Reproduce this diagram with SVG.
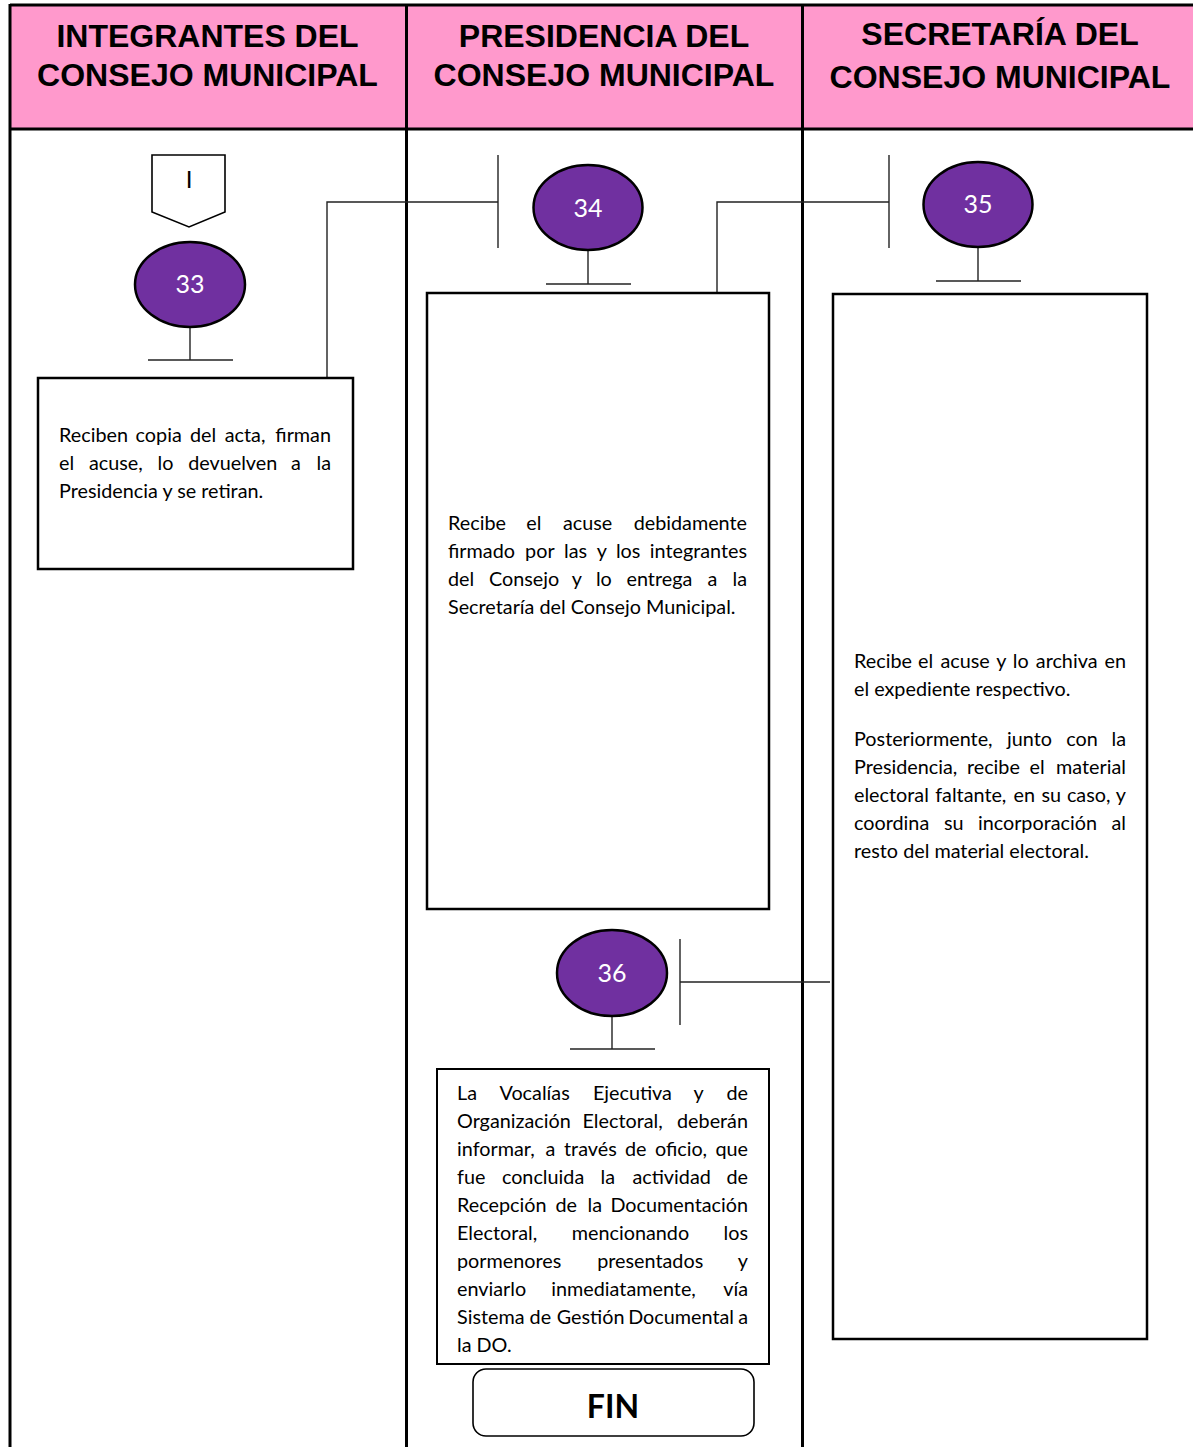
<svg xmlns="http://www.w3.org/2000/svg" width="1193" height="1447" viewBox="0 0 1193 1447">
<style>
.lane{stroke:#000;stroke-width:3;fill:none}
.hdr{font-family:"Liberation Sans",Arial,sans-serif;font-weight:bold;font-size:32px;fill:#000;text-anchor:middle}
.circ{fill:#7030A0;stroke:#000;stroke-width:2.5}
.num{font-family:Lato,"Noto Sans",sans-serif;font-size:25px;fill:#fff;text-anchor:middle}
.box{fill:#fff;stroke:#000;stroke-width:2.5}
.body{font-family:Lato,"Noto Sans",sans-serif;font-size:19.8px;fill:#000}
.ln{stroke:#222;stroke-width:1.4;fill:none}
.e{text-anchor:end}
</style>
<rect x="0" y="0" width="1193" height="1447" fill="#fff"/>
<g id="lanes">
<rect x="10" y="5" width="1190" height="124" fill="#FF99CC"/>
<line class="lane" x1="10" y1="5" x2="1193" y2="5"/>
<line class="lane" x1="10" y1="129" x2="1193" y2="129"/>
<line class="lane" x1="10" y1="4" x2="10" y2="1447"/>
<line class="lane" x1="406.5" y1="4" x2="406.5" y2="1447"/>
<line class="lane" x1="802.5" y1="4" x2="802.5" y2="1447"/>
<text class="hdr" x="207.5" y="47">INTEGRANTES DEL</text>
<text class="hdr" x="207.5" y="86">CONSEJO MUNICIPAL</text>
<text class="hdr" x="604" y="47">PRESIDENCIA DEL</text>
<text class="hdr" x="604" y="86">CONSEJO MUNICIPAL</text>
<text class="hdr" x="1000" y="45">SECRETARÍA DEL</text>
<text class="hdr" x="1000" y="88">CONSEJO MUNICIPAL</text>
</g>
<g id="connectors">
<polyline class="ln" points="327,378 327,202 498,202"/>
<line class="ln" x1="498" y1="155" x2="498" y2="248"/>
<polyline class="ln" points="717,293 717,202 889,202"/>
<line class="ln" x1="889" y1="155" x2="889" y2="248"/>
<line class="ln" x1="680" y1="982" x2="830" y2="982"/>
<line class="ln" x1="680" y1="939" x2="680" y2="1025"/>
</g>
<g id="node-I">
<polygon points="152,155 225,155 225,212 189,227 152,212" fill="#fff" stroke="#000" stroke-width="1.6"/>
<text x="189" y="188" font-family="Lato,'Noto Sans',sans-serif" font-size="24" text-anchor="middle">I</text>
</g>
<g id="node-33">
<line class="ln" x1="190" y1="327" x2="190" y2="360"/>
<line class="ln" x1="148" y1="360" x2="233" y2="360"/>
<ellipse class="circ" cx="190" cy="284.5" rx="55" ry="42.5"/>
<text class="num" x="190" y="293">33</text>
</g>
<g id="box-33">
<rect class="box" x="38" y="378" width="315" height="191"/>
<text class="body" y="442"><tspan x="59">Reciben</tspan><tspan x="135.6">copia</tspan><tspan x="189.9">del</tspan><tspan x="224.7">acta,</tspan><tspan x="331" class="e">firman</tspan></text>
<text class="body" y="470"><tspan x="59">el</tspan><tspan x="89">acuse,</tspan><tspan x="157.6">lo</tspan><tspan x="188.2">devuelven</tspan><tspan x="291.1">a</tspan><tspan x="331" class="e">la</tspan></text>
<text class="body" x="59" y="498">Presidencia y se retiran.</text>
</g>
<g id="node-34">
<line class="ln" x1="588" y1="250" x2="588" y2="284"/>
<line class="ln" x1="546" y1="284" x2="631" y2="284"/>
<ellipse class="circ" cx="588" cy="207.5" rx="54.5" ry="42.5"/>
<text class="num" x="588" y="217">34</text>
</g>
<g id="box-34">
<rect class="box" x="427" y="293" width="342" height="616"/>
<text class="body" y="530"><tspan x="448">Recibe</tspan><tspan x="526.3">el</tspan><tspan x="562.9">acuse</tspan><tspan x="747" class="e">debidamente</tspan></text>
<text class="body" y="558"><tspan x="448">firmado</tspan><tspan x="525.1">por</tspan><tspan x="564.1">las</tspan><tspan x="596.8">y</tspan><tspan x="615.9">los</tspan><tspan x="747" class="e">integrantes</tspan></text>
<text class="body" y="586"><tspan x="448">del</tspan><tspan x="489">Consejo</tspan><tspan x="571.7">y</tspan><tspan x="595.9">lo</tspan><tspan x="626.5">entrega</tspan><tspan x="707.5">a</tspan><tspan x="747" class="e">la</tspan></text>
<text class="body" x="448" y="614">Secretaría del Consejo Municipal.</text>
</g>
<g id="node-35">
<line class="ln" x1="978" y1="246" x2="978" y2="281"/>
<line class="ln" x1="936" y1="281" x2="1021" y2="281"/>
<ellipse class="circ" cx="978" cy="204.5" rx="54.5" ry="42.5"/>
<text class="num" x="978" y="213">35</text>
</g>
<g id="box-35">
<rect class="box" x="833" y="294" width="314" height="1045"/>
<text class="body" y="668"><tspan x="854">Recibe</tspan><tspan x="918.1">el</tspan><tspan x="940.5">acuse</tspan><tspan x="996.2">y</tspan><tspan x="1012.8">lo</tspan><tspan x="1035.8">archiva</tspan><tspan x="1126" class="e">en</tspan></text>
<text class="body" x="854" y="696">el expediente respectivo.</text>
<text class="body" y="746"><tspan x="854">Posteriormente,</tspan><tspan x="1007.1">junto</tspan><tspan x="1066.2">con</tspan><tspan x="1126" class="e">la</tspan></text>
<text class="body" y="774"><tspan x="854">Presidencia,</tspan><tspan x="966.9">recibe</tspan><tspan x="1029.6">el</tspan><tspan x="1126" class="e">material</tspan></text>
<text class="body" y="802"><tspan x="854">electoral</tspan><tspan x="935.2">faltante,</tspan><tspan x="1013.6">en</tspan><tspan x="1041.4">su</tspan><tspan x="1066.9">caso,</tspan><tspan x="1126" class="e">y</tspan></text>
<text class="body" y="830"><tspan x="854">coordina</tspan><tspan x="944">su</tspan><tspan x="977.9">incorporación</tspan><tspan x="1126" class="e">al</tspan></text>
<text class="body" x="854" y="858">resto del material electoral.</text>
</g>
<g id="node-36">
<line class="ln" x1="612" y1="1015" x2="612" y2="1049"/>
<line class="ln" x1="570" y1="1049" x2="655" y2="1049"/>
<ellipse class="circ" cx="612" cy="973" rx="55" ry="43"/>
<text class="num" x="612" y="982">36</text>
</g>
<g id="box-36">
<rect x="437" y="1069" width="332" height="295" fill="#fff" stroke="#000" stroke-width="2"/>
<text class="body" y="1100"><tspan x="457">La</tspan><tspan x="499.5">Vocalías</tspan><tspan x="592.9">Ejecutiva</tspan><tspan x="693.5">y</tspan><tspan x="748" class="e">de</tspan></text>
<text class="body" y="1128"><tspan x="457">Organización</tspan><tspan x="582.5">Electoral,</tspan><tspan x="748" class="e">deberán</tspan></text>
<text class="body" y="1156"><tspan x="457">informar,</tspan><tspan x="545.5">a</tspan><tspan x="564">través</tspan><tspan x="625">de</tspan><tspan x="654.9">oficio,</tspan><tspan x="748" class="e">que</tspan></text>
<text class="body" y="1184"><tspan x="457">fue</tspan><tspan x="501.9">concluida</tspan><tspan x="600.5">la</tspan><tspan x="632.4">actividad</tspan><tspan x="748" class="e">de</tspan></text>
<text class="body" y="1212"><tspan x="457">Recepción</tspan><tspan x="555.5">de</tspan><tspan x="587.5">la</tspan><tspan x="748" class="e">Documentación</tspan></text>
<text class="body" y="1240"><tspan x="457">Electoral,</tspan><tspan x="571.8">mencionando</tspan><tspan x="748" class="e">los</tspan></text>
<text class="body" y="1268"><tspan x="457">pormenores</tspan><tspan x="597.2">presentados</tspan><tspan x="748" class="e">y</tspan></text>
<text class="body" y="1296"><tspan x="457">enviarlo</tspan><tspan x="551.3">inmediatamente,</tspan><tspan x="748" class="e">vía</tspan></text>
<text class="body" y="1324"><tspan x="457">Sistema</tspan><tspan x="529.6">de</tspan><tspan x="556.7">Gestión</tspan><tspan x="628.2">Documental</tspan><tspan x="748" class="e">a</tspan></text>
<text class="body" x="457" y="1352">la DO.</text>
</g>
<g id="node-fin">
<rect x="473" y="1369" width="281" height="67" rx="13" fill="#fff" stroke="#000" stroke-width="1.6"/>
<text x="613" y="1418" font-family="Lato,'Noto Sans',sans-serif" font-weight="bold" font-size="32" text-anchor="middle">FIN</text>
</g>
</svg>
